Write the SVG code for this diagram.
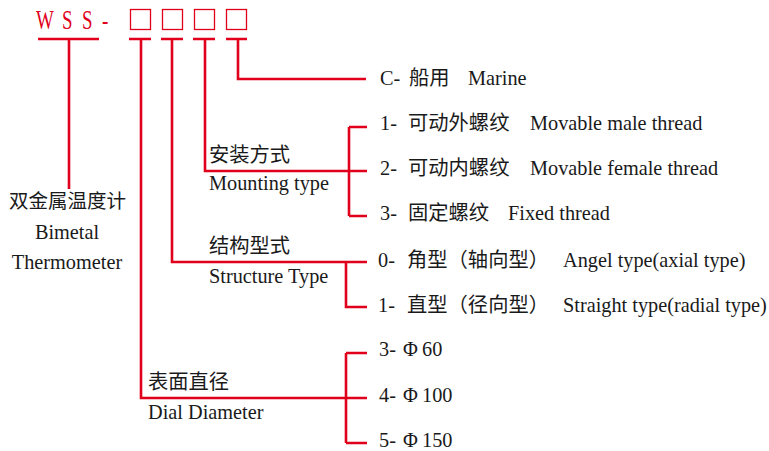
<svg xmlns="http://www.w3.org/2000/svg" width="769" height="451" viewBox="0 0 769 451">
<style>
.t{font-family:"Liberation Serif","Noto Sans CJK SC",serif;font-size:20.3px;fill:#1a1a1a}
.c{font-family:"Liberation Serif","Noto Sans CJK SC",serif;font-size:19.5px;fill:#1a1a1a}
.ln{fill:none;stroke:#e0001b;stroke-width:2.6;stroke-linecap:butt;stroke-linejoin:miter}
.box{fill:none;stroke:#e0001b;stroke-width:1.3}
.red{font-family:"Liberation Serif",serif;font-size:27px;fill:#e0001b}
</style>
<rect width="769" height="451" fill="#fff"/>
<g id="code">
<text class="red" transform="translate(0,29) scale(0.7,1)" x="51.4 88.6 117.1 145.7">WSS-</text>
<rect class="box" x="130.5" y="9.5" width="20" height="20"/>
<rect class="box" x="162.5" y="9.5" width="20" height="20"/>
<rect class="box" x="194.5" y="9.5" width="20" height="20"/>
<rect class="box" x="226.5" y="9.5" width="20" height="20"/>
</g>
<g id="connectors">
<path class="ln" d="M38 39H99M69 39V189"/>
<path class="ln" d="M129 39H151M141 39V398H367M346 353V443M346 353H367M346 443H367"/>
<path class="ln" d="M161 39H183M172 39V262H367M346 262V307H367"/>
<path class="ln" d="M193 39H215M205 39V171H367M349 127V216M349 127H367M349 216H367"/>
<path class="ln" d="M226 39H247M238 39V79H366"/>
</g>
<g id="bimetal">
<text class="c" x="67.5" y="208" text-anchor="middle">双金属温度计</text>
<text class="t" x="67" y="239" text-anchor="middle">Bimetal</text>
<text class="t" x="67" y="269" text-anchor="middle">Thermometer</text>
</g>
<g id="marine">
<text class="t" x="380" y="85">C-<tspan x="409">船用</tspan><tspan x="468">Marine</tspan></text>
</g>
<g id="mounting">
<text class="t" x="209" y="162">安装方式</text>
<text class="t" x="209" y="190">Mounting type</text>
</g>
<g id="mount-1">
<text class="t" x="380" y="130">1-<tspan x="408">可动外螺纹</tspan><tspan x="530">Movable male thread</tspan></text>
</g>
<g id="mount-2">
<text class="t" x="380" y="175">2-<tspan x="408">可动内螺纹</tspan><tspan x="530">Movable female thread</tspan></text>
</g>
<g id="mount-3">
<text class="t" x="380" y="220">3-<tspan x="408">固定螺纹</tspan><tspan x="508">Fixed thread</tspan></text>
</g>
<g id="structure">
<text class="t" x="209" y="253">结构型式</text>
<text class="t" x="209" y="283">Structure Type</text>
</g>
<g id="struct-0">
<text class="t" x="378" y="266.5">0-<tspan x="407">角型（轴向型）</tspan><tspan x="563">Angel type(axial type)</tspan></text>
</g>
<g id="struct-1">
<text class="t" x="378" y="311.5">1-<tspan x="407">直型（径向型）</tspan><tspan x="563">Straight type(radial type)</tspan></text>
</g>
<g id="dial">
<text class="t" x="148" y="389">表面直径</text>
<text class="t" x="148" y="419">Dial Diameter</text>
</g>
<g id="dial-3"><text class="t" x="379" y="356">3-<tspan x="403">Φ</tspan><tspan x="422">60</tspan></text></g>
<g id="dial-4"><text class="t" x="379" y="401.5">4-<tspan x="403">Φ</tspan><tspan x="422">100</tspan></text></g>
<g id="dial-5"><text class="t" x="379" y="446.5">5-<tspan x="403">Φ</tspan><tspan x="422">150</tspan></text></g>
</svg>
